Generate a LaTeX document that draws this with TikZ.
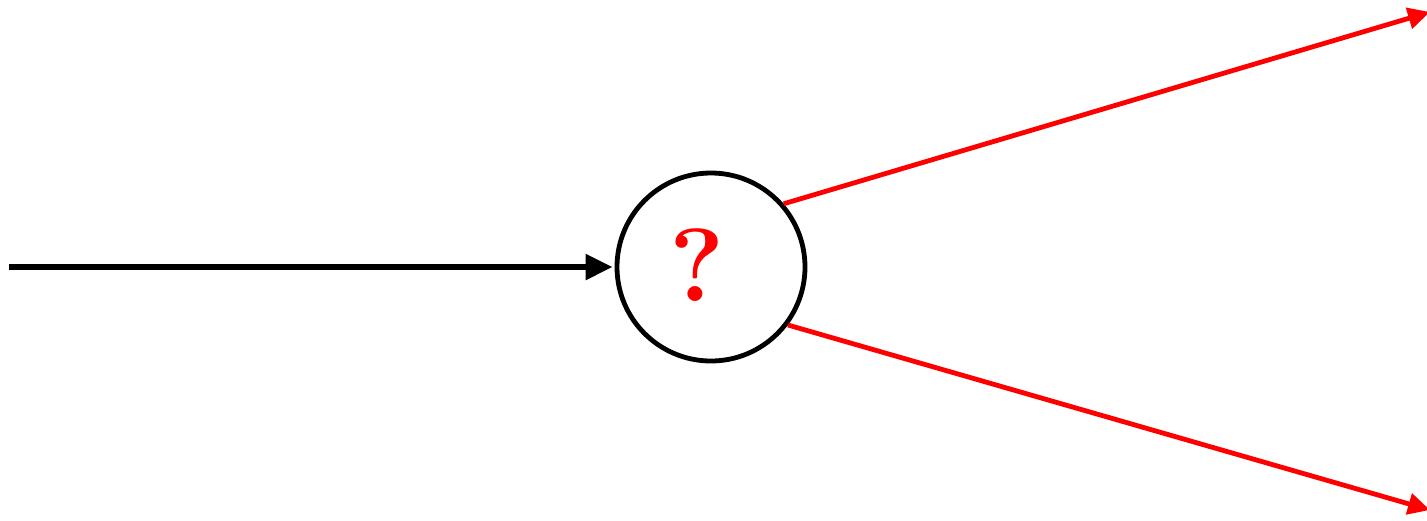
\documentclass[tikz,border=0pt]{standalone}
\usetikzlibrary{arrows.meta}
\begin{document}
\begin{tikzpicture}[x=1pt,y=-1pt,
  flow/.style={line width=5.5pt,-{Triangle[length=27pt,width=25pt]}},
  branch/.style={red,line width=4.8pt,-{Triangle[length=22pt,width=21pt]}},
  junction/.style={circle,draw,line width=4.8pt,minimum size=188pt,inner sep=0pt}]
\useasboundingbox (0,0) rectangle (1427,520);
\node[junction] (c) at (711,267) {};
\node[text=red,font=\fontsize{104}{104}\selectfont\bfseries] (q) at (697,265) {?};
\coordinate (src) at (9,267);
\coordinate (up) at (1430,12);
\coordinate (down) at (1430,510);
\draw[flow,shorten >=2pt] (src) -- (c.west);
\draw[branch] (c.41.5) -- (up);
\draw[branch] (c.-37) -- (down);
\end{tikzpicture}
\end{document}
